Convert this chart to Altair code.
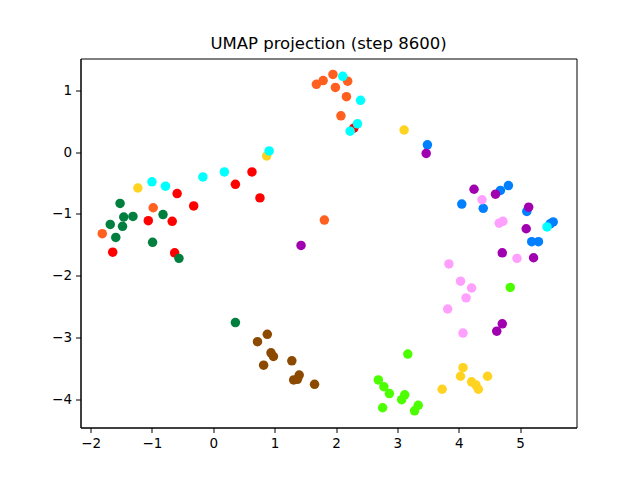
import altair as alt
import pandas as pd

groups = ["red", "orange", "yellow", "green", "brown", "lime", "blue", "purple", "pink", "cyan"]
colors = ["#ff0000", "#ff5f1f", "#ffd320", "#007f3f", "#8b4a00", "#4cff00", "#0080ff", "#a000b0", "#ffa0ff", "#00ffff"]

red_x = [-1.64, -0.63, 0.63, 0.36, 0.76, -0.32, -0.59, -1.06, -0.67, 2.29]
red_y = [-1.62, -1.63, -0.32, -0.52, -0.74, -0.87, -0.67, -1.11, -1.12, 0.39]
orange_x = [1.68, 1.79, 1.95, 2.19, 1.99, 2.17, 2.08, 1.81, -0.98, -1.81]
orange_y = [1.10, 1.16, 1.26, 1.15, 1.05, 0.90, 0.59, -1.10, -0.90, -1.32]
yellow_x = [3.11, 0.87, -1.23, 4.07, 4.03, 4.47, 4.21, 4.28, 4.32, 3.73]
yellow_y = [0.36, -0.06, -0.58, -3.49, -3.63, -3.63, -3.72, -3.77, -3.84, -3.84]
green_x = [-1.52, -1.31, -1.46, -0.82, -1.68, -1.48, -1.59, -0.99, -0.56, 0.36]
green_y = [-0.83, -1.04, -1.05, -1.01, -1.17, -1.20, -1.38, -1.46, -1.72, -2.76]
brown_x = [0.88, 0.72, 0.94, 0.98, 0.82, 1.28, 1.40, 1.31, 1.37, 1.65]
brown_y = [-2.95, -3.07, -3.25, -3.31, -3.45, -3.38, -3.61, -3.69, -3.68, -3.76]
lime_x = [3.17, 2.69, 2.78, 2.87, 3.12, 3.07, 2.76, 3.34, 3.28, 4.84]
lime_y = [-3.27, -3.69, -3.80, -3.91, -3.93, -4.01, -4.14, -4.10, -4.19, -2.19]
blue_x = [3.49, 4.05, 4.40, 4.68, 4.81, 5.11, 5.54, 5.49, 5.19, 5.30]
blue_y = [0.12, -0.84, -0.91, -0.62, -0.54, -0.96, -1.13, -1.16, -1.45, -1.45]
purple_x = [3.47, 4.25, 4.60, 5.14, 5.10, 4.71, 5.22, 4.71, 4.62, 1.43]
purple_y = [-0.02, -0.60, -0.68, -0.89, -1.24, -1.63, -1.71, -2.78, -2.90, -1.51]
pink_x = [4.38, 4.72, 4.66, 4.95, 3.84, 4.03, 4.21, 4.12, 3.82, 4.07]
pink_y = [-0.77, -1.12, -1.15, -1.72, -1.81, -2.09, -2.20, -2.36, -2.54, -2.93]
cyan_x = [2.11, 2.40, 2.35, 2.23, 0.91, 0.18, -0.17, -0.78, -1.00, 5.44]
cyan_y = [1.23, 0.84, 0.46, 0.34, 0.02, -0.32, -0.40, -0.55, -0.48, -1.21]

xs = [red_x, orange_x, yellow_x, green_x, brown_x, lime_x, blue_x, purple_x, pink_x, cyan_x]
ys = [red_y, orange_y, yellow_y, green_y, brown_y, lime_y, blue_y, purple_y, pink_y, cyan_y]

rows = []
k = 0
for g, gx, gy in zip(groups, xs, ys):
    for a, b in zip(gx, gy):
        rows.append({"x": a, "y": b, "g": g, "o": k})
        k += 1
df = pd.DataFrame(rows)

x_ticks = [-2, -1, 0, 1, 2, 3, 4, 5]
y_ticks = [-4, -3, -2, -1, 0, 1]

axis_common = dict(grid=False, domainColor="black", tickColor="black", tickSize=5,
                   labelFont="DejaVu Sans", labelFontSize=13.5, labelColor="black",
                   labelPadding=4, title=None, domainWidth=1)

chart = alt.Chart(df).mark_circle(size=90, opacity=1).encode(
    x=alt.X("x:Q", scale=alt.Scale(domain=[-2.165, 5.92], nice=False, zero=False),
            axis=alt.Axis(values=x_ticks, format="d", **axis_common)),
    y=alt.Y("y:Q", scale=alt.Scale(domain=[-4.46, 1.518], nice=False, zero=False),
            axis=alt.Axis(values=y_ticks, format="d", **axis_common)),
    color=alt.Color("g:N", scale=alt.Scale(domain=groups, range=colors), legend=None),
    order=alt.Order("o:Q"),
).properties(
    width=496, height=369,
    title=alt.TitleParams("UMAP projection (step 8600)", font="DejaVu Sans", fontSize=16.5,
                          fontWeight="normal", color="black", offset=6),
    autosize=alt.AutoSizeParams(type="none"),
    padding={"left": 72.5, "top": 50.5, "right": 50, "bottom": 40},
).configure_view(stroke="black", strokeWidth=1)

chart.save("out.html", embed_options={"renderer": "svg", "actions": False})
